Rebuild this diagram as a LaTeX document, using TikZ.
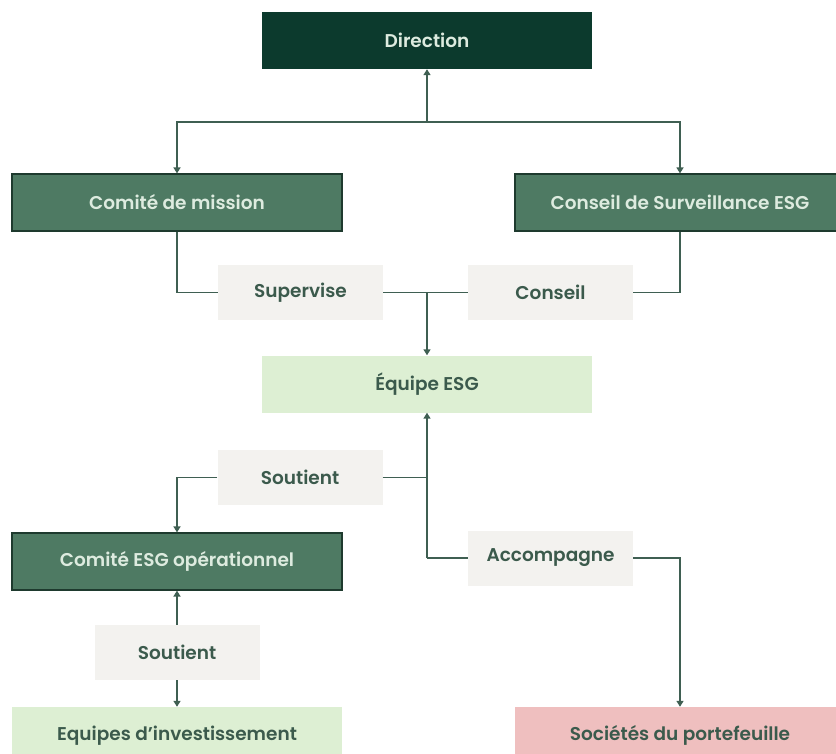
\documentclass[tikz,border=0pt]{standalone}
\usepackage{fontspec}
\setmainfont{Poppins}[BoldFont={Poppins SemiBold}]
\usepackage{tikz}
\usetikzlibrary{arrows.meta,positioning}
\definecolor{dirgreen}{HTML}{0C3A2D}
\definecolor{midgreen}{HTML}{4E7A63}
\definecolor{edgegreen}{HTML}{1E3A2E}
\definecolor{palegreen}{HTML}{DDEFD3}
\definecolor{greylbl}{HTML}{F3F2EF}
\definecolor{pinkbox}{HTML}{EFBFBF}
\definecolor{lighttext}{HTML}{DDEBDF}
\definecolor{darktext}{HTML}{3B5A4C}
\definecolor{linecol}{HTML}{3F5F52}

\begin{document}
\begin{tikzpicture}[x=1pt,y=-1pt,
		box/.style={minimum width=330pt,minimum height=57pt,inner sep=0pt,font=\fontsize{18.5}{21}\selectfont\bfseries},
		topbox/.style={box,fill=dirgreen,text=lighttext},
		midbox/.style={box,fill=midgreen,draw=edgegreen,line width=1.2pt,text=lighttext},
		palebox/.style={box,fill=palegreen,text=darktext},
		pinkbx/.style={box,fill=pinkbox,text=darktext},
		lbl/.style={minimum width=165pt,minimum height=55pt,inner sep=0pt,fill=greylbl,text=darktext,font=\fontsize{18.5}{21}\selectfont\bfseries},
		link/.style={draw=linecol,line width=1.6pt},
		arr/.style={link,-{Triangle[width=7pt,length=6pt]}}]
		\useasboundingbox (0,0) rectangle (836,754);
		\clip (0,0) rectangle (836,754);
		% boxes
		\node[topbox] (direction) at (427,40.5) {Direction};
		\node[midbox] (comite) at (177,202.5) {Comité de mission};
		\node[midbox] (surveillance) at (680,202.5) {Conseil de Surveillance ESG};
		\node[lbl] (supervise) at (300.5,292.5) {Supervise};
		\node[lbl] (conseil) at (550.5,292.5) {Conseil};
		\node[palebox] (equipe) at (427,384) {Équipe ESG};
		\node[lbl] (soutienA) at (300,477.5) {Soutient};
		\node[midbox] (comiteop) at (177,561.5) {Comité ESG opérationnel};
		\node[lbl] (accompagne) at (550.5,558) {Accompagne};
		\node[lbl] (soutienB) at (177,652.5) {Soutient};
		\node[palebox] (equipes) at (177,735.5) {Equipes d’investissement};
		\node[pinkbx] (societes) at (680,735.5) {Sociétés du portefeuille};
		% links
		\coordinate (split) at (427,122);
		\draw[arr] (split) -- (direction.south);
		\draw[arr] (split) -| (comite.north);
		\draw[arr] (split) -| (surveillance.north);
		\draw[link] (comite.south) |- (supervise.west);
		\draw[link] (supervise.east) -- (conseil.west);
		\draw[link] (conseil.east) -| (surveillance.south);
		\coordinate (join) at (equipe.north |- supervise.east);
		\draw[arr] (join) -- (equipe.north);
		\coordinate (spine) at (equipe.south |- accompagne.west);
		\draw[arr] (spine) -- (equipe.south);
		\draw[link] (spine) -- (accompagne.west);
		\draw[link] (soutienA.east) -- (equipe.south |- soutienA.east);
		\draw[arr] (soutienA.west) -| (comiteop.north);
		\draw[arr] (accompagne.east) -| (societes.north);
		\draw[arr] (soutienB.north) -- (comiteop.south);
		\draw[arr] (soutienB.south) -- (equipes.north);
	\end{tikzpicture}
\end{document}
